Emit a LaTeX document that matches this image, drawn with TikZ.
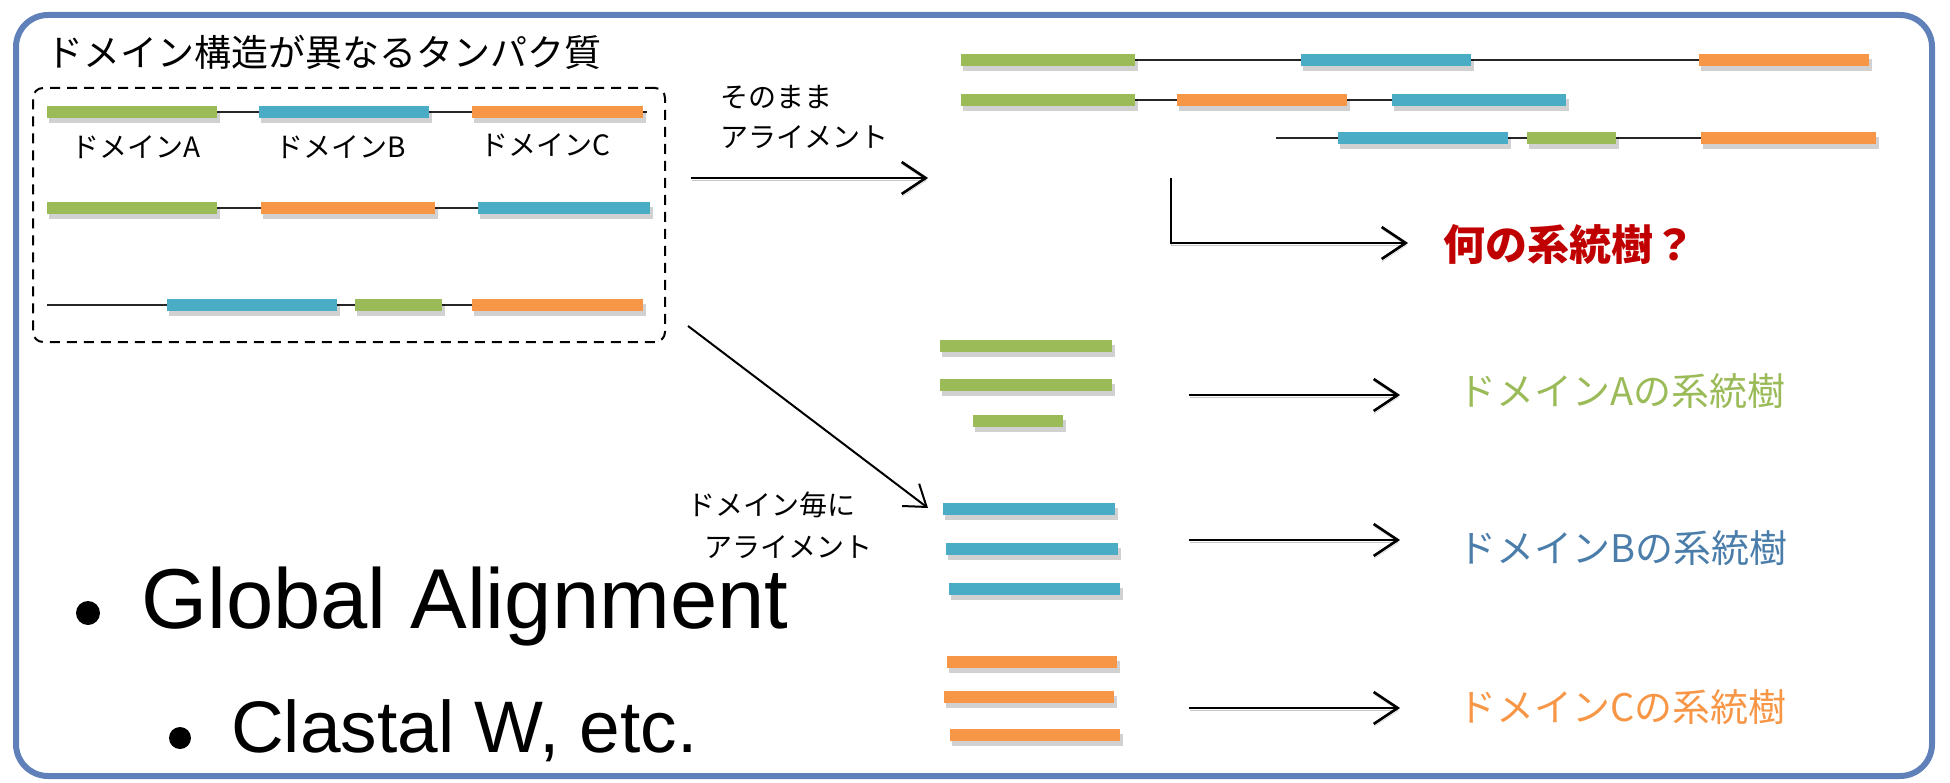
\documentclass[tikz,border=0pt]{standalone}
\usepackage{fontspec}
\setmainfont{Liberation Sans}
\newfontfamily\jp{Noto Sans CJK JP}
\usetikzlibrary{arrows.meta}
\definecolor{dgreen}{RGB}{155,187,89}
\definecolor{dblue}{RGB}{75,172,198}
\definecolor{dorange}{RGB}{247,150,70}
\definecolor{tblue}{RGB}{75,125,170}
\definecolor{tred}{RGB}{192,0,0}
\definecolor{framecol}{RGB}{96,128,186}
\newcommand\dombar[4]{%
  \fill[black,opacity=0.18] (#1+2,#3-1) rectangle (#2+3,#3+11);
  \fill[#4] (#1,#3-6) rectangle (#2,#3+6);}
\tikzset{
  link/.style={line width=2.5pt, black!85},
  arrshadow/.style={preaction={draw=black!22, transform canvas={shift={(0.5pt,-2.5pt)}}}},
  arr/.style={line width=2.6pt, black, -{Straight Barb[length=24pt,width=32pt]}, arrshadow},
  small/.style={font=\jp\fontsize{28}{30}\selectfont, inner sep=0pt, anchor=west},
  tree/.style={font=\jp\fontsize{38}{40}\selectfont, inner sep=0pt, anchor=west},
  bulletdot/.style={circle, fill=black, inner sep=0pt},
}
\begin{document}
\begin{tikzpicture}[x=1pt,y=-1pt]
\useasboundingbox (0,0) rectangle (1950,783);
% outer frame
\draw[framecol, line width=6pt, rounded corners=32pt] (16,15) rectangle (1932,776);
% title
\node[font=\jp\fontsize{37}{40}\selectfont, inner sep=0pt, anchor=west] (ttl) at (46,52) {ドメイン構造が異なるタンパク質};
% dashed group
\node[draw, dashed, dash pattern=on 10pt off 7pt, line width=2pt, rounded corners=10pt,
      minimum width=632pt, minimum height=254pt, inner sep=0pt] (grp) at (349,215) {};
% left rows
\draw[link] (47,112) -- (647,112);
\dombar{47}{217}{112}{dgreen}
\dombar{259}{429}{112}{dblue}
\dombar{472}{643}{112}{dorange}
\node[small, anchor=center] (la) at (136,147) {ドメインA};
\node[small, anchor=center] (lb) at (341,147) {ドメインB};
\node[small, anchor=center] (lc) at (545,145) {ドメインC};
\draw[link] (47,208) -- (650,208);
\dombar{47}{217}{208}{dgreen}
\dombar{261}{435}{208}{dorange}
\dombar{478}{650}{208}{dblue}
\draw[link] (47,305) -- (643,305);
\dombar{167}{337}{305}{dblue}
\dombar{355}{442}{305}{dgreen}
\dombar{472}{643}{305}{dorange}
% right rows (aligned as is)
\draw[link] (961,60) -- (1869,60);
\dombar{961}{1135}{60}{dgreen}
\dombar{1301}{1471}{60}{dblue}
\dombar{1699}{1869}{60}{dorange}
\draw[link] (961,100) -- (1566,100);
\dombar{961}{1135}{100}{dgreen}
\dombar{1177}{1347}{100}{dorange}
\dombar{1392}{1566}{100}{dblue}
\draw[link] (1276,138) -- (1876,138);
\dombar{1338}{1508}{138}{dblue}
\dombar{1527}{1616}{138}{dgreen}
\dombar{1701}{1876}{138}{dorange}
% labels for the straight alignment
\node[small] (s1) at (720,97) {そのまま};
\node[small] (s2) at (720,137) {アライメント};
\coordinate (a1s) at (691,178);
\coordinate (a1e) at (928,178);
\draw[arr] (a1s) -- (a1e);
\coordinate (q1) at (1171,178);
\coordinate (q2) at (1171,243);
\coordinate (q3) at (1408,243);
\draw[arr] (q1) -- (q2) -- (q3);
\node[font=\jp\bfseries\fontsize{42}{44}\selectfont, text=tred, inner sep=0pt, anchor=west] (what) at (1443,245) {何の系統樹？};
% diagonal arrow
\coordinate (d1) at (688,326);
\coordinate (d2) at (928,508);
\draw[line width=2pt, black, -{Straight Barb[length=20pt,width=28pt]}] (d1) -- (d2);
\node[small] (m1) at (687,505) {ドメイン毎に};
\node[small] (m2) at (704,547) {アライメント};
% domain-wise bars
\dombar{940}{1112}{346}{dgreen}
\dombar{940}{1112}{385}{dgreen}
\dombar{973}{1063}{421}{dgreen}
\dombar{943}{1115}{509}{dblue}
\dombar{946}{1118}{549}{dblue}
\dombar{949}{1120}{589}{dblue}
\dombar{947}{1117}{662}{dorange}
\dombar{944}{1114}{697}{dorange}
\dombar{950}{1120}{735}{dorange}
\coordinate (ra1) at (1189,395);
\coordinate (ra2) at (1400,395);
\coordinate (rb1) at (1189,540);
\coordinate (rb2) at (1400,540);
\coordinate (rc1) at (1189,708);
\coordinate (rc2) at (1400,708);
\draw[arr] (ra1) -- (ra2);
\draw[arr] (rb1) -- (rb2);
\draw[arr] (rc1) -- (rc2);
\node[tree, text=dgreen] (ta) at (1458,391) {ドメインAの系統樹};
\node[tree, text=tblue] (tb) at (1458,548) {ドメインBの系統樹};
\node[tree, text=dorange] (tc) at (1458,707) {ドメインCの系統樹};
% bullets
\node[bulletdot, minimum size=24pt] (b1) at (88,613) {};
\node[anchor=base west, inner sep=0pt, font=\fontsize{85}{90}\selectfont] (g1) at (141,628) {Global Alignment};
\node[bulletdot, minimum size=22pt] (b2) at (180,738) {};
\node[anchor=base west, inner sep=0pt, font=\fontsize{73}{80}\selectfont] (g2) at (231,752) {Clastal W, etc.};
\end{tikzpicture}
\end{document}
